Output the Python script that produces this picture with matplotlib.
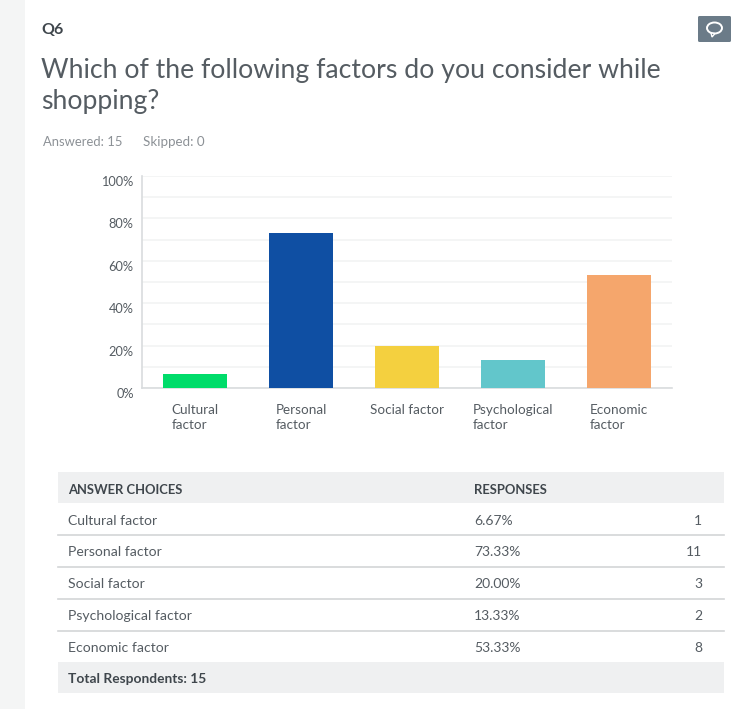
import matplotlib
matplotlib.use("Agg")
import matplotlib.pyplot as plt
from matplotlib.patches import Rectangle, FancyBboxPatch, Ellipse, Polygon
from matplotlib.transforms import ScaledTranslation

plt.rcParams['font.family'] = ['Lato', 'DejaVu Sans']

W, H = 744, 709
categories = ["Cultural\nfactor", "Personal\nfactor", "Social factor", "Psychological\nfactor", "Economic\nfactor"]
values = [6.67, 73.33, 20.00, 13.33, 53.33]
bar_colors = ["#00DC6A", "#0F4FA3", "#F4D03F", "#62C6CB", "#F5A66C"]
table_names = ["Cultural factor", "Personal factor", "Social factor", "Psychological factor", "Economic factor"]
table_pcts = ["6.67%", "73.33%", "20.00%", "13.33%", "53.33%"]
table_counts = [1, 11, 3, 2, 8]
y_ticks = [0, 20, 40, 60, 80, 100]
grid_ticks = [10, 20, 30, 40, 50, 60, 70, 80, 90]

fig = plt.figure(figsize=(W / 100, H / 100), dpi=100, facecolor="white")

bg = fig.add_axes([0, 0, 1, 1], zorder=0)
bg.set_xlim(0, W); bg.set_ylim(H, 0); bg.axis("off")
bg.add_patch(Rectangle((0, 0), 25, H, color="#F4F5F5", lw=0))

DARK = "#3F464C"
MID = "#555C62"
LIGHT = "#8C9196"

bg.text(41, 30, "Q6", fontsize=11.5, fontweight="bold", color=DARK, va="center")
bg.text(41, 70.5, "Which of the following factors do you consider while", fontsize=19.2, color=MID, va="center")
bg.text(41, 101.5, "shopping?", fontsize=19.2, color=MID, va="center")
bg.text(43, 142, "Answered: 15", fontsize=9.4, color=LIGHT, va="center")
bg.text(143, 142, "Skipped: 0", fontsize=9.6, color=LIGHT, va="center")

bg.add_patch(FancyBboxPatch((698, 16), 33, 26, boxstyle="round,pad=0,rounding_size=1.5", fc="#6B7B88", ec="none"))
bg.add_patch(Ellipse((714.5, 28), 15, 11, fc="none", ec="white", lw=1.4))
bg.add_patch(Polygon([[711, 33], [715, 33.5], [712, 37]], closed=True, fc="#6B7B88", ec="white", lw=1.0))

x0, x1, ytop, ybot = 142, 672, 176, 388
ax = fig.add_axes([x0 / W, 1 - ybot / H, (x1 - x0) / W, (ybot - ytop) / H], zorder=1)
ax.patch.set_alpha(0)
xs = list(range(len(categories)))
ax.bar(xs, values, width=0.6, color=bar_colors, zorder=3)
ax.set_xlim(-0.5, 4.5)
ax.set_ylim(0, 100)
ax.set_yticks(y_ticks, [f"{t}%" for t in y_ticks], fontsize=9.2, color=MID)
ax.set_yticks(grid_ticks, minor=True)
ax.set_xticks(xs, categories, fontsize=9.7, color=MID, linespacing=1.3, multialignment="left")
ax.tick_params(axis="both", which="both", length=0)
ax.tick_params(axis="y", pad=6)
ax.tick_params(axis="x", pad=11.5)
down = ScaledTranslation(0, -5 / 100, fig.dpi_scale_trans)
for t in ax.get_yticklabels():
    t.set_transform(t.get_transform() + down)
ax.grid(axis="y", which="both", color="#F2F3F4", lw=1.2, zorder=0)
for s in ("top", "right"):
    ax.spines[s].set_visible(False)
for s in ("left", "bottom"):
    ax.spines[s].set_color("#D9DCDE")
    ax.spines[s].set_linewidth(1.2)

tx0, tx1 = 58, 724
bg.add_patch(Rectangle((tx0, 472), tx1 - tx0, 31, color="#EFF0F1", lw=0))
bg.add_patch(Rectangle((tx0, 662), tx1 - tx0, 31, color="#EFF0F1", lw=0))
bg.text(68, 489.5, "ANSWER CHOICES", fontsize=9.4, fontweight="bold", color=DARK, va="center")
bg.text(474, 489.5, "RESPONSES", fontsize=9.4, fontweight="bold", color=DARK, va="center")
row_ys = [521, 552, 584, 616, 648]
rule_ys = [535, 567, 599, 631]
for y in rule_ys:
    bg.plot([tx0, tx1], [y, y], color="#D3D5D7", lw=1.2)
for y, name, pct, count in zip(row_ys, table_names, table_pcts, table_counts):
    bg.text(68, y, name, fontsize=10.1, color=MID, va="center")
    bg.text(474, y, pct, fontsize=10, color=MID, va="center")
    bg.text(702, y, str(count), fontsize=10, color=MID, va="center", ha="right")
bg.text(68, 679, "Total Respondents: 15", fontsize=9.9, fontweight="bold", color=DARK, va="center")

fig.savefig("out.png", dpi=100, facecolor="white")
